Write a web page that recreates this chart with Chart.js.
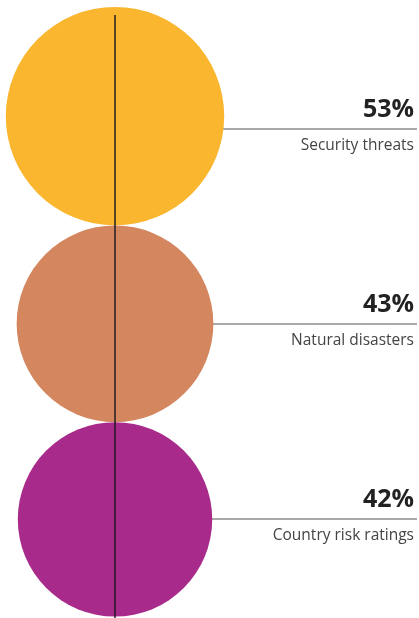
<!DOCTYPE html>
<html>
<head>
<meta charset="utf-8">
<script src="https://cdn.jsdelivr.net/npm/chart.js@4"></script>
<style>
  html, body { margin: 0; padding: 0; background: #fff; }
  #wrap { width: 419px; height: 618px; position: relative; }
</style>
</head>
<body>
<div id="wrap"><canvas id="chart"></canvas></div>
<script>
"use strict"
const categories = ["Security threats", "Natural disasters", "Country risk ratings"];
const shares = [53, 43, 42];
const bubbleColors = ["#F9B62E", "#D4865F", "#A82A8A"];

// layout (pixel space of the canvas)
const W = 419, H = 618;
const centerX = 115;
const topGap = 7;
const scaleK = 15.0;          // radius = k * sqrt(value), area ~ value
const firstRow = 129;
const rowStep = 195;

const radii = shares.map(v => scaleK * Math.sqrt(v));
const points = [];
let cursor = topGap;
for (let i = 0; i < shares.length; i++) {
    const y = cursor + radii[i];
    points.push({ x: centerX, y: y, r: radii[i] });
    cursor = y + radii[i];
}

const labelPlugin = {
    id: "labels",
    beforeDatasetsDraw(chart) {
        const ctx = chart.ctx;
        const xs = chart.scales.x, ys = chart.scales.y;
        ctx.save();
        ctx.strokeStyle = "#8c8c8c";
        ctx.lineWidth = 1.5;
        categories.forEach((c, i) => {
            const y = ys.getPixelForValue(firstRow + i * rowStep);
            ctx.beginPath();
            ctx.moveTo(xs.getPixelForValue(centerX), y);
            ctx.lineTo(xs.getPixelForValue(417), y);
            ctx.stroke();
        });
        ctx.restore();
    },
    afterDatasetsDraw(chart) {
        const ctx = chart.ctx;
        const xs = chart.scales.x, ys = chart.scales.y;
        ctx.save();
        // vertical axis line through the circles
        ctx.strokeStyle = "#16161f";
        ctx.lineWidth = 1.4;
        ctx.beginPath();
        ctx.moveTo(xs.getPixelForValue(centerX), ys.getPixelForValue(15));
        ctx.lineTo(xs.getPixelForValue(centerX), ys.getPixelForValue(H));
        ctx.stroke();

        ctx.textAlign = "right";
        ctx.textBaseline = "alphabetic";
        categories.forEach((c, i) => {
            const y = ys.getPixelForValue(firstRow + i * rowStep);
            const x = xs.getPixelForValue(414);
            ctx.fillStyle = "#222222";
            ctx.font = "bold 25px 'Open Sans'";
            ctx.fillText(shares[i] + "%", x, y - 12);
            ctx.fillStyle = "#444444";
            ctx.font = "15.5px 'Open Sans'";
            ctx.fillText(c, x, y + 21);
        });
        ctx.restore();
    }
};

const myChart = new Chart(document.getElementById("chart"), {
    type: "bubble",
    plugins: [labelPlugin],
    data: {
        labels: categories,
        datasets: [{
            data: points,
            backgroundColor: bubbleColors,
            borderWidth: 0,
            hoverBorderWidth: 0,
            clip: false
        }]
    },
    options: {
        responsive: true,
        maintainAspectRatio: false,
        animation: false,
        events: [],
        layout: { padding: 0, autoPadding: false },
        plugins: { legend: { display: false }, tooltip: { enabled: false } },
        scales: {
            x: { type: "linear", min: 0, max: W, display: false },
            y: { type: "linear", min: 0, max: H, reverse: true, display: false }
        }
    }
});
</script>
</body>
</html>
